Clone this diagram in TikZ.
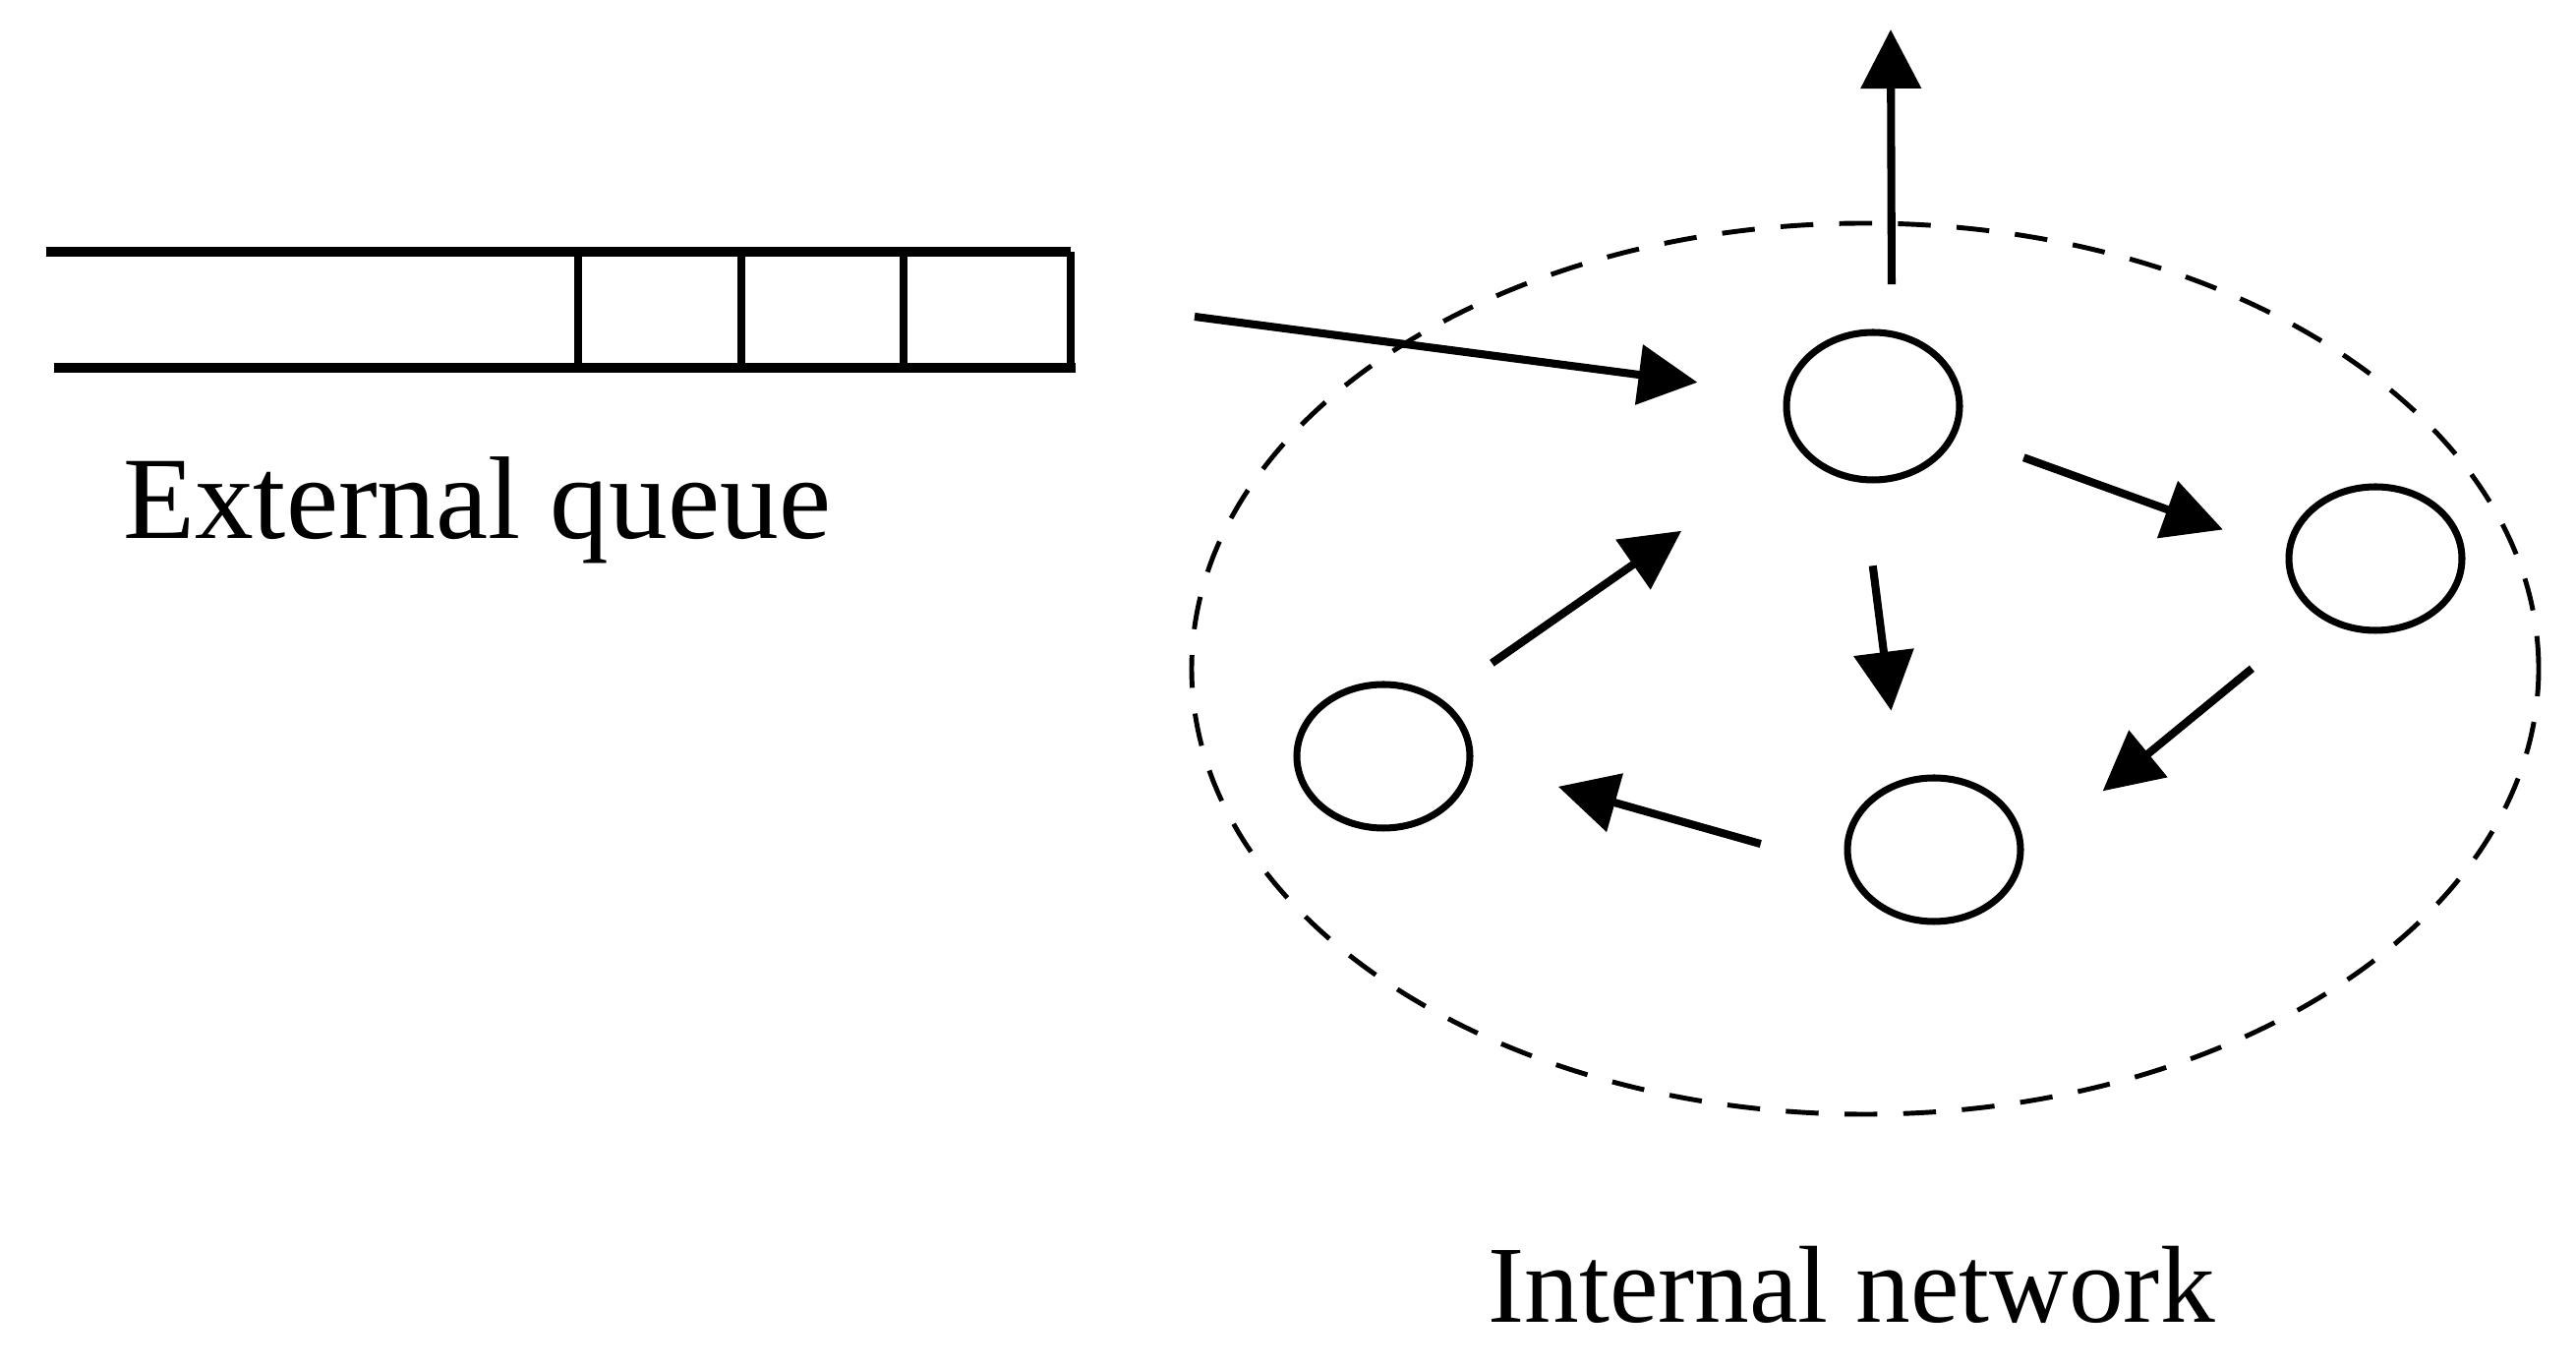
\documentclass[tikz,border=0pt]{standalone}
\usepackage{fontspec}
\setmainfont{Liberation Serif}
\usetikzlibrary{positioning, arrows.meta, shapes}

\begin{document}
\begin{tikzpicture}[
    station/.style={ellipse, draw=black, line width=2pt, inner sep=0pt, minimum width=1.76cm, minimum height=1.46cm},
    flow/.style={-{Triangle[length=0.6cm, width=0.6cm]}, line width=2.3pt},
    queueline/.style={line width=2.7pt}
]
    \useasboundingbox (0, 0) rectangle (26.2, 13.91);

    \node[station, minimum height=1.5cm] (s1) at (19.05, 9.78) {};
    \node[station] (s2) at (24.16, 8.23) {};
    \node[station] (s3) at (19.67, 5.27) {};
    \node[station] (s4) at (14.07, 6.22) {};
    \node[ellipse, draw=black, line width=1.4pt, dash pattern=on 9.5pt off 7.5pt, inner sep=0pt, minimum width=13.7cm, minimum height=9.06cm] (net) at (18.97, 7.11) {};

    % external queue
    \draw[queueline] (0.47, 11.35) -- (10.89, 11.35);
    \draw[queueline] (0.55, 10.17) -- (10.94, 10.17);
    \foreach \x in {5.88, 7.54, 9.19, 10.89}
        \draw[line width=2.2pt] (\x, 11.35) -- (\x, 10.17);
    \node[font=\fontsize{34}{40}\selectfont, anchor=base] (qlabel) at (4.85, 8.43) {External queue};
    \node[font=\fontsize{31.7}{38}\selectfont, anchor=base] (nlabel) at (18.83, 0.46) {Internal network};

    \coordinate (qin) at (12.15, 10.69);
    \coordinate (qout) at (19.23, 13.61);

    \draw[flow, shorten >=0.89cm] (qin) -- (s1.172);
    \draw[flow, shorten <=0.47cm] (s1.76) -- (qout);
    \draw[flow, shorten <=0.72cm, shorten >=0.68cm] (s1.-18) -- (s2.176);
    \draw[flow, shorten <=0.85cm, shorten >=0.71cm] (s1.262) -- (s3.116);
    \draw[flow, shorten <=0.85cm, shorten >=1.04cm] (s2.224) -- (s3.-4);
    \draw[flow, shorten <=0.91cm, shorten >=0.90cm] (s3.192) -- (s4.-4);
    \draw[flow, shorten <=0.63cm, shorten >=1.45cm] (s4.45) -- (s1.210);
\end{tikzpicture}
\end{document}
